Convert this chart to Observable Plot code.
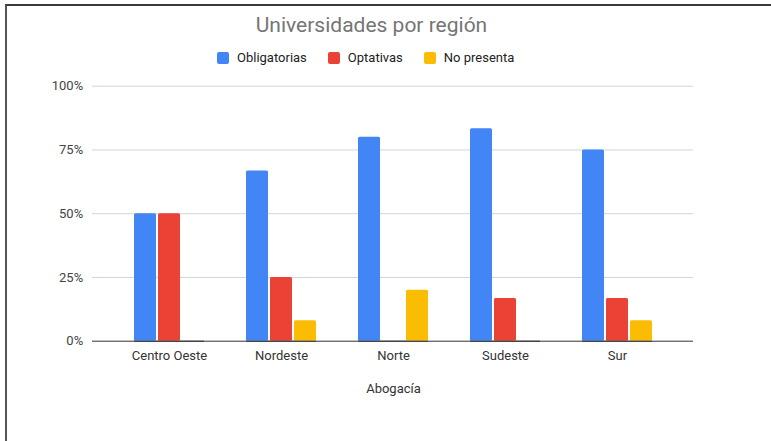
<!DOCTYPE html>
<html><head><meta charset="utf-8">
<script src="https://cdn.jsdelivr.net/npm/d3@7"></script>
<script src="https://cdn.jsdelivr.net/npm/@observablehq/plot@0.6"></script>
<style>
html,body{margin:0;padding:0;background:#fff;width:771px;height:441px;overflow:hidden;font-family:Roboto,"Liberation Sans",sans-serif;}
.layer{position:absolute;left:0;top:0;}
#frame{position:absolute;left:5px;top:4px;width:800px;height:460px;border-top:2px solid #3a3a3a;border-left:2px solid #555;}
#title{position:absolute;left:0;top:15px;width:743px;text-align:center;font-size:21px;line-height:21px;color:#757575;}
#legend{position:absolute;left:217px;top:51px;display:flex;align-items:center;font-size:13px;line-height:13px;color:#222;}
.item{display:flex;align-items:center;margin-right:21px;}
.sw{width:12px;height:12px;border-radius:2px;margin-right:8px;}
</style></head><body>
<div id="back" class="layer"></div>
<div id="front" class="layer"></div>
<div id="frame"></div>
<div id="title">Universidades por región</div>
<div id="legend"></div>
<script>
const regions = ["Centro Oeste", "Nordeste", "Norte", "Sudeste", "Sur"];
const obligatorias = [50, 66.7, 80, 83.3, 75];
const optativas = [50, 25, 0, 16.7, 16.7];
const noPresenta = [0, 8, 20, 0, 8];
const seriesNames = ["Obligatorias", "Optativas", "No presenta"];
const seriesColors = ["#4285F4", "#EA4335", "#FBBC04"];
const yTicks = [0, 25, 50, 75, 100];
const xTitle = "Abogacía";

const seriesValues = [obligatorias, optativas, noPresenta];
const data = regions.flatMap((r, i) =>
  seriesNames.map((s, j) => ({region: r, series: s, value: seriesValues[j][i]}))
).filter(d => d.value > 0);

const legend = document.getElementById("legend");
seriesNames.forEach((s, j) => {
  const it = document.createElement("div");
  it.className = "item";
  const sw = document.createElement("div");
  sw.className = "sw";
  sw.style.background = seriesColors[j];
  const t = document.createElement("span");
  t.textContent = s;
  it.appendChild(sw); it.appendChild(t);
  legend.appendChild(it);
});

const common = {
  width: 771, height: 441,
  marginLeft: 92, marginRight: 78, marginTop: 85.7, marginBottom: 100.3,
  style: {fontFamily: "Roboto", fontSize: "13px", background: "transparent", color: "#444"},
  y: {domain: [0, 100], axis: null}
};

// Back layer: full-width gridlines, baseline and y tick labels
const back = Plot.plot({
  ...common,
  x: {axis: null},
  marks: [
    Plot.ruleY(yTicks.filter(d => d > 0), {stroke: "#d4d4d4"}),
    Plot.ruleY([0], {stroke: "#333"}),
    Plot.text(yTicks, {y: d => d, text: d => d + "%", frameAnchor: "left", textAnchor: "end", dx: -9.3, fill: "#444", fontSize: 13})
  ]
});
document.getElementById("back").appendChild(back);

// Front layer: grouped bars (faceted by region) and region axis
const front = Plot.plot({
  ...common,
  fx: {domain: regions, paddingInner: 0.378, paddingOuter: 0.36},
  x: {domain: seriesNames, paddingInner: 0.1, paddingOuter: 0, axis: null},
  color: {domain: seriesNames, range: seriesColors},
  marks: [
    Plot.barY(data, {fx: "region", x: "series", y: "value", fill: "series", rx: 1.5}),
    Plot.ruleY([0], {stroke: "#333"}),
    Plot.axisFx({anchor: "bottom", tickSize: 0, tickPadding: 9.3, fontSize: 13, color: "#333", label: xTitle, labelAnchor: "center", labelOffset: 52})
  ]
});
document.getElementById("front").appendChild(front);
</script>
</body></html>
